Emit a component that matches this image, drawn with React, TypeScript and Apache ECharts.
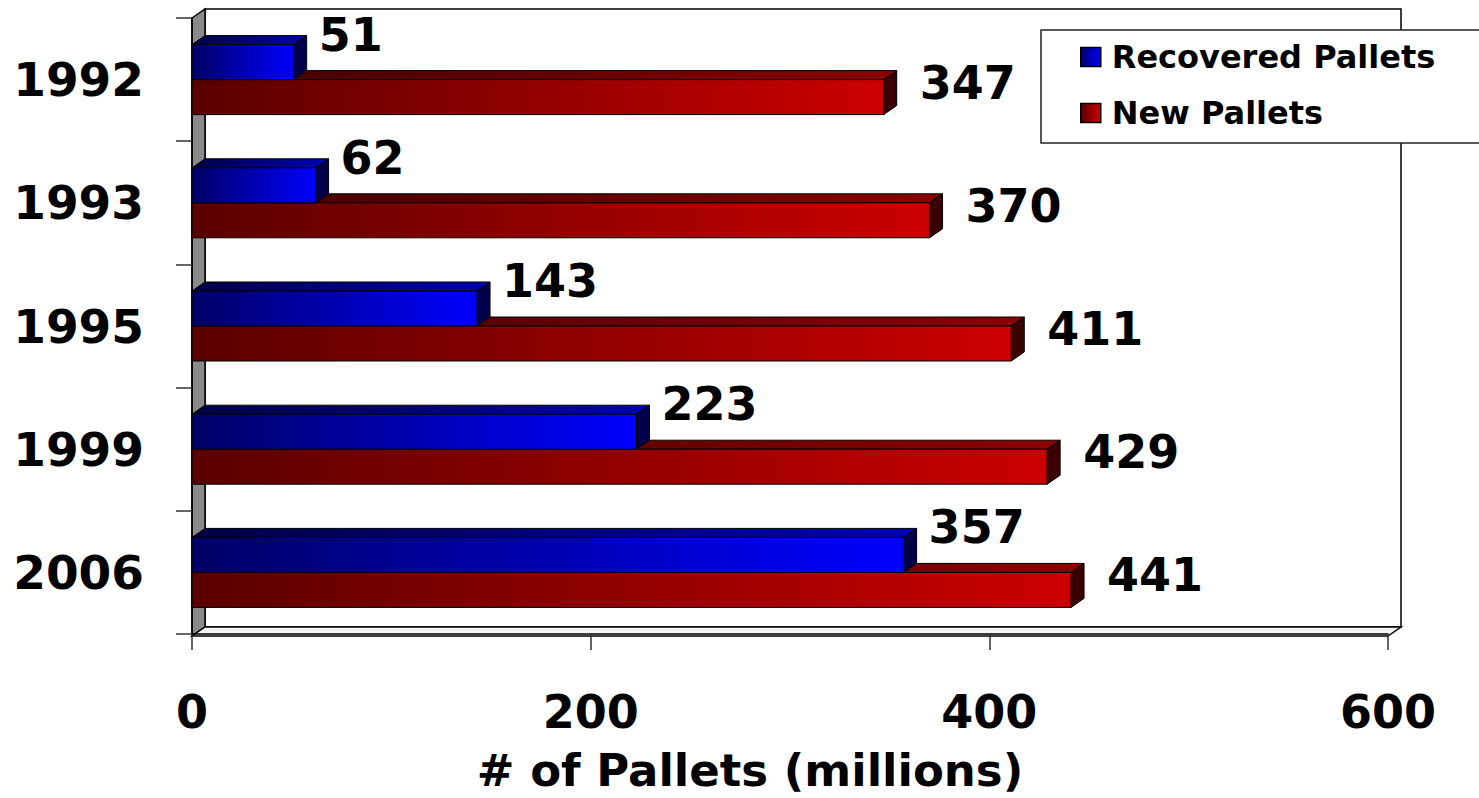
import React, { useEffect, useRef } from "react";
import * as echarts from "echarts";

// Survey years and pallet counts (millions)
const years = ["1992", "1993", "1995", "1999", "2006"];
const recoveredPallets = [51, 62, 143, 223, 357];
const newPallets = [347, 370, 411, 429, 441];
const seriesNames = ["Recovered Pallets", "New Pallets"];
const xMin = 0;
const xMax = 600;
const xStep = 200;

// Plot frame geometry (front plane) and the pseudo-3D depth offset
const FRAME = { left: 192, top: 18, right: 1388, bottom: 636 };
const DEPTH_X = 13;
const DEPTH_Y = -9;
const BAR_H = 35;
const FONT = "'DejaVu Sans', Verdana, sans-serif";

const grad = (a: string, b: string) =>
  new echarts.graphic.LinearGradient(0, 0, 1, 0, [
    { offset: 0, color: a },
    { offset: 1, color: b },
  ]);

const palettes = {
  blue: { front: ["#000066", "#0000ff"], top: ["#000045", "#0000b4"], side: "#00004a" },
  red: { front: ["#5a0000", "#cc0000"], top: ["#3d0000", "#8c0000"], side: "#3a0000" },
};

function makeRender(
  pal: { front: string[]; top: string[]; side: string },
  offset: number,
  labelDx: number,
  labelDy: number
) {
  return (_params: any, api: any) => {
    const v = api.value(0);
    const c = api.value(1);
    const p0 = api.coord([0, c]);
    const p1 = api.coord([v, c]);
    const x0 = p0[0];
    const x1 = p1[0];
    const yt = p0[1] + offset - BAR_H / 2;
    const yb = yt + BAR_H;
    const stroke = { stroke: "#000", lineWidth: 1 };
    return {
      type: "group",
      children: [
        {
          type: "polygon",
          shape: {
            points: [
              [x0, yt],
              [x0 + DEPTH_X, yt + DEPTH_Y],
              [x1 + DEPTH_X, yt + DEPTH_Y],
              [x1, yt],
            ],
          },
          style: { fill: grad(pal.top[0], pal.top[1]), ...stroke },
        },
        {
          type: "polygon",
          shape: {
            points: [
              [x1, yt],
              [x1 + DEPTH_X, yt + DEPTH_Y],
              [x1 + DEPTH_X, yb + DEPTH_Y],
              [x1, yb],
            ],
          },
          style: { fill: pal.side, ...stroke },
        },
        {
          type: "rect",
          shape: { x: x0, y: yt, width: x1 - x0, height: BAR_H },
          style: { fill: grad(pal.front[0], pal.front[1]), ...stroke },
        },
        {
          type: "text",
          x: x1 + DEPTH_X + labelDx,
          y: yt + labelDy,
          z2: 10,
          style: {
            text: String(v),
            fill: "#000",
            font: `bold 46px ${FONT}`,
            align: "left",
            verticalAlign: "middle",
          },
        },
      ],
    };
  };
}

export default function App() {
  const ref = useRef<HTMLDivElement>(null);

  useEffect(() => {
    if (!ref.current) return;
    const chart = echarts.init(ref.current, null, { renderer: "svg" });
    const F = FRAME;
    chart.setOption({
      animation: false,
      backgroundColor: "#fff",
      grid: {
        left: F.left,
        top: F.top,
        width: F.right - F.left,
        height: F.bottom - F.top,
      },
      legend: {
        orient: "vertical",
        left: 1041,
        top: 30,
        padding: [11, 90, 14, 39],
        itemGap: 24,
        itemWidth: 20,
        itemHeight: 19,
        backgroundColor: "#fff",
        borderColor: "#222",
        borderWidth: 1.5,
        borderRadius: 0,
        icon: "rect",
        textStyle: {
          fontFamily: FONT,
          fontWeight: "bold",
          fontSize: 32,
          color: "#000",
          padding: [0, 0, 0, 6],
        },
        data: [
          {
            name: seriesNames[0],
            itemStyle: { color: grad("#000066", "#0000ff"), borderColor: "#000", borderWidth: 1.5 },
          },
          {
            name: seriesNames[1],
            itemStyle: { color: grad("#5a0000", "#cc0000"), borderColor: "#000", borderWidth: 1.5 },
          },
        ],
      },
      xAxis: {
        type: "value",
        min: xMin,
        max: xMax,
        interval: xStep,
        name: "# of Pallets (millions)",
        nameLocation: "middle",
        nameGap: 114,
        nameTextStyle: {
          fontFamily: FONT,
          fontWeight: "bold",
          fontSize: 45,
          color: "#000",
          padding: [0, 80, 0, 0],
        },
        axisLine: { show: true, lineStyle: { color: "#000", width: 1.5 } },
        axisTick: { show: true, length: 16, lineStyle: { color: "#333", width: 1.5 } },
        splitLine: { show: false },
        axisLabel: {
          margin: 55,
          fontFamily: FONT,
          fontWeight: "bold",
          fontSize: 46,
          color: "#000",
        },
      },
      yAxis: {
        type: "category",
        data: years,
        inverse: true,
        axisLine: { show: true, lineStyle: { color: "#000", width: 1.5 } },
        axisTick: { show: true, length: 16, lineStyle: { color: "#333", width: 1.5 } },
        splitLine: { show: false },
        axisLabel: {
          margin: 48,
          fontFamily: FONT,
          fontWeight: "bold",
          fontSize: 47,
          color: "#000",
          padding: [10, 0, 0, 0],
        },
      },
      graphic: [
        {
          type: "rect",
          z: -10,
          shape: {
            x: F.left + DEPTH_X,
            y: F.top + DEPTH_Y,
            width: F.right - F.left,
            height: F.bottom - F.top,
          },
          style: { fill: "#fff", stroke: "#000", lineWidth: 1.5 },
        },
        {
          type: "polygon",
          z: -9,
          shape: {
            points: [
              [F.left, F.top],
              [F.left + DEPTH_X, F.top + DEPTH_Y],
              [F.left + DEPTH_X, F.bottom + DEPTH_Y],
              [F.left, F.bottom],
            ],
          },
          style: { fill: "#8a8a8a", stroke: "#000", lineWidth: 1.5 },
        },
        {
          type: "polygon",
          z: -9,
          shape: {
            points: [
              [F.left, F.bottom],
              [F.left + DEPTH_X, F.bottom + DEPTH_Y],
              [F.right + DEPTH_X, F.bottom + DEPTH_Y],
              [F.right, F.bottom],
            ],
          },
          style: { fill: "#f4f4f4", stroke: "#000", lineWidth: 1.5 },
        },
      ],
      series: [
        {
          name: seriesNames[1],
          type: "custom",
          z: 3,
          itemStyle: { color: "#cc0000" },
          encode: { x: 0, y: 1 },
          data: newPallets.map((v, i) => [v, i]),
          renderItem: makeRender(palettes.red, BAR_H / 2, 23, 3),
        },
        {
          name: seriesNames[0],
          type: "custom",
          z: 4,
          itemStyle: { color: "#0000ff" },
          encode: { x: 0, y: 1 },
          data: recoveredPallets.map((v, i) => [v, i]),
          renderItem: makeRender(palettes.blue, -BAR_H / 2, 12, -10),
        },
      ],
    });
    return () => chart.dispose();
  }, []);

  return (
    <div
      ref={ref}
      style={{ position: "fixed", left: 0, top: 0, width: 1479, height: 798 }}
    />
  );
}
